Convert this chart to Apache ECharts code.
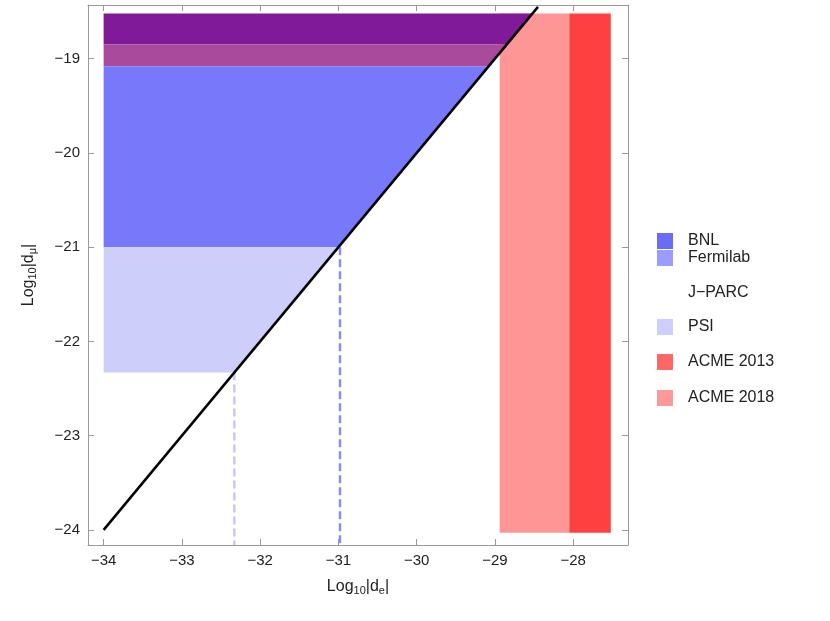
<!DOCTYPE html>
<html><head><meta charset="utf-8">
<script src="https://cdn.jsdelivr.net/npm/echarts@6/dist/echarts.min.js"></script>
<style>body{margin:0}#c{width:830px;height:621px}</style></head>
<body><div id="c"></div>
<script>
// Bounds [log10 de], [log10 dmu]
var xTicks = [-34, -33, -32, -31, -30, -29, -28];
var yTicks = [-24, -23, -22, -21, -20, -19];
// Muon EDM bands: [yTop, yBottom], x from -34 up to the line y = x + 10
var bandBNLtop = [-18.52, -18.85];
var bandMid = [-18.85, -19.08];
var bandBNL = [-19.08, -21];
var bandPSI = [-21, -22.33];
// Electron EDM vertical bands: [xLeft, xRight, yBottom, yTop]
var acme2018 = [-28.94, -28.05, -24.03, -18.52];
var acme2013 = [-28.05, -27.52, -24.03, -18.52];
var lineX = [-34, -28.45];
var lineOffset = 10;
var dashPSI = -32.33;
var dashFermi = -30.98;
var legendNames = ['BNL', 'Fermilab', 'J\u2212PARC', 'PSI', 'ACME 2013', 'ACME 2018'];
var legendColors = ['#6b6bf7', '#9c9cff', '#ffffff', '#cfcfff', '#ff6666', '#ff9999'];
var legendY = [241, 258, 293, 327, 362, 398];

var xMin = -34.2, xMax = -27.3, yMin = -24.16, yMax = -18.43;

function bandPoly(b) {
  return [[-34, b[0]], [b[0] - lineOffset, b[0]], [b[1] - lineOffset, b[1]], [-34, b[1]]];
}
function rectPoly(r) {
  return [[r[0], r[3]], [r[1], r[3]], [r[1], r[2]], [r[0], r[2]]];
}
var polys = [
  {pts: rectPoly(acme2018), color: 'rgb(255,150,150)'},
  {pts: rectPoly(acme2013), color: 'rgb(255,64,64)'},
  {pts: bandPoly(bandBNLtop), color: 'rgb(128,26,152)'},
  {pts: bandPoly(bandMid), color: 'rgb(170,74,156)'},
  {pts: bandPoly(bandBNL), color: 'rgb(120,120,250)'},
  {pts: bandPoly(bandPSI), color: 'rgb(206,206,250)'}
];

var chart = echarts.init(document.getElementById('c'));
var axisCommon = {
  axisLine: {show: true, onZero: false, lineStyle: {color: '#888'}},
  axisTick: {inside: true, length: 6, lineStyle: {color: '#888'}, customValues: null},
  splitLine: {show: false}
};
function mkAxis(type, pos, min, max, ticks, labels, name) {
  var a = {
    type: 'value', position: pos, min: min, max: max,
    axisLine: {show: true, onZero: false, lineStyle: {color: '#999'}},
    axisTick: {show: true, inside: true, length: 6, customValues: ticks, lineStyle: {color: '#999'}},
    axisLabel: {show: labels, customValues: ticks, color: '#222', fontSize: 15, fontFamily: 'Liberation Sans',
      formatter: function(v){ return String(v).replace('-', '\u2212'); }},
    splitLine: {show: false}
  };
  if (name) {
    a.name = name.t; a.nameLocation = 'middle'; a.nameGap = name.gap;
    a.nameTextStyle = {color: '#222', fontSize: 16, fontFamily: 'Liberation Sans',
      rich: {s: {fontSize: 11, verticalAlign: 'bottom', padding: [8,0,0,0], fontFamily: 'Liberation Sans'}}};
  }
  return a;
}
var graphics = [];
legendNames.forEach(function(n, i) {
  graphics.push({type: 'rect', shape: {x: 657, y: legendY[i] - 8, width: 16, height: 16}, style: {fill: legendColors[i]}});
  graphics.push({type: 'text', x: 688, y: legendY[i], style: {text: n, fill: '#222', fontSize: 16, fontFamily: 'Liberation Sans', verticalAlign: 'middle'}});
});

chart.setOption({
  animation: false,
  grid: {left: 88, right: 202, top: 5, bottom: 76},
  xAxis: [
    mkAxis('x', 'bottom', xMin, xMax, xTicks, true, {t: 'Log{s|10}|d{s|e}|', gap: 32}),
    mkAxis('x', 'top', xMin, xMax, xTicks, false)
  ],
  yAxis: [
    mkAxis('y', 'left', yMin, yMax, yTicks, true, {t: 'Log{s|10}|d{s|μ}|', gap: 50}),
    mkAxis('y', 'right', yMin, yMax, yTicks, false)
  ],
  graphic: graphics,
  series: [
    {type: 'custom', data: polys.map(function(p, i){ return i; }),
     renderItem: function(params, api) {
       var p = polys[params.dataIndex];
       return {type: 'polygon', shape: {points: p.pts.map(function(q){ return api.coord(q); })},
         style: {fill: p.color}};
     }, z: 1},
    {type: 'line', data: [[dashPSI, bandPSI[1]], [dashPSI, yMin]], symbol: 'none',
     lineStyle: {color: '#c8c8fa', width: 2.5, type: [8, 4]}, z: 2},
    {type: 'line', data: [[dashFermi, bandBNL[1]], [dashFermi, yMin]], symbol: 'none',
     lineStyle: {color: '#8c8cf5', width: 2.5, type: [8, 4]}, z: 2},
    {type: 'line', data: lineX.map(function(x){ return [x, x + lineOffset]; }), symbol: 'none',
     lineStyle: {color: '#000', width: 2.5}, z: 3}
  ]
});
</script></body></html>
